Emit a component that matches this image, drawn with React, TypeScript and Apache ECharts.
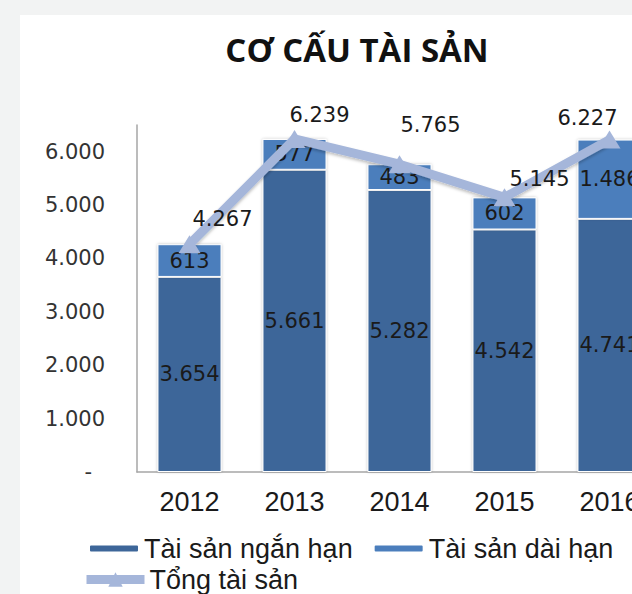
import React, { useEffect, useRef } from "react";
import * as echarts from "echarts";

const categories = ["2012", "2013", "2014", "2015", "2016"];
const shortTermAssets = [3654, 5661, 5282, 4542, 4741];
const longTermAssets = [613, 577, 483, 602, 1486];
const totalAssets = [4267, 6239, 5765, 5145, 6227];
const yTicks = [0, 1000, 2000, 3000, 4000, 5000, 6000];

const seriesNames = ["Tài sản ngắn hạn", "Tài sản dài hạn", "Tổng tài sản"];
const titleText = "CƠ CẤU TÀI SẢN";

// label offsets for the total line (layout only)
const totalLabelOffsets = [
  [33, -25],
  [25, -24],
  [31, -39],
  [35, -18],
  [-22, -22],
];

const fmt = (v: number) => String(v).replace(/\B(?=(\d{3})+(?!\d))/g, ".");

const DARK = "#3d6699";
const LIGHT = "#4b7ebc";
const LINE = "#a5b6da";
const NUM_FONT = "DejaVu Sans";
const TXT_FONT = "Liberation Sans";

export default function App() {
  const ref = useRef<HTMLDivElement>(null);
  useEffect(() => {
    if (!ref.current) return;
    const chart = echarts.init(ref.current, null, { renderer: "svg" });
    const barLabel = {
      show: true,
      position: "inside",
      color: "#1a1a1a",
      fontFamily: NUM_FONT,
      fontSize: 21,
      formatter: (p: any) => fmt(p.value),
    };
    chart.setOption({
      animation: false,
      backgroundColor: "#f2f3f3",
      graphic: [
        {
          type: "rect",
          z: -10,
          silent: true,
          shape: { x: 20, y: 15, width: 700, height: 700 },
          style: { fill: "#ffffff" },
        },
      ],
      title: {
        text: titleText,
        left: 352,
        textAlign: "center",
        top: 28,
        textStyle: {
          fontFamily: "Open Sans",
          fontWeight: "bold",
          fontSize: 33,
          color: "#111111",
        },
      },
      legend: [
        {
          data: [seriesNames[0], seriesNames[1]],
          left: 88,
          top: 535,
          padding: 0,
          itemWidth: 50,
          itemHeight: 8,
          itemGap: 20,
          textStyle: { fontFamily: TXT_FONT, fontSize: 27, color: "#1a1a1a" },
        },
        {
          data: [seriesNames[2]],
          left: 82,
          top: 566,
          padding: 0,
          itemWidth: 58,
          itemHeight: 18,
          lineStyle: { width: 9, color: LINE },
          textStyle: { fontFamily: TXT_FONT, fontSize: 27, color: "#1a1a1a" },
        },
      ],
      grid: { left: 137, right: 0, top: 125, bottom: 122, containLabel: false },
      xAxis: {
        type: "category",
        data: categories,
        axisLine: { show: true, lineStyle: { color: "#a6a6a6", width: 1.5 } },
        axisTick: { show: false },
        axisLabel: {
          fontFamily: TXT_FONT,
          fontSize: 27,
          color: "#1a1a1a",
          margin: 16,
        },
      },
      yAxis: {
        type: "value",
        min: 0,
        max: 6500,
        interval: 1000,
        splitLine: { show: false },
        axisTick: { show: false },
        axisLine: { show: true, lineStyle: { color: "#a6a6a6", width: 1.5 } },
        axisLabel: {
          margin: 32,
          fontFamily: NUM_FONT,
          fontSize: 21,
          color: "#333333",
          formatter: (v: number) =>
            v === 0 ? "{d|-}" : yTicks.includes(v) ? fmt(v) : "",
          rich: { d: { fontFamily: NUM_FONT, fontSize: 21, color: "#333333", padding: [0, 13, 0, 0] } },
        },
      },
      series: [
        {
          name: seriesNames[0],
          type: "bar",
          stack: "a",
          barWidth: "61%",
          data: shortTermAssets,
          itemStyle: {
            color: DARK,
            borderColor: "#ffffff",
            borderWidth: 1,
            shadowColor: "rgba(0,0,0,0.25)",
            shadowBlur: 3,
          },
          label: barLabel,
        },
        {
          name: seriesNames[1],
          type: "bar",
          stack: "a",
          barWidth: "61%",
          data: longTermAssets,
          itemStyle: {
            color: LIGHT,
            borderColor: "#ffffff",
            borderWidth: 1,
            shadowColor: "rgba(0,0,0,0.25)",
            shadowBlur: 3,
          },
          label: barLabel,
        },
        {
          name: seriesNames[2],
          type: "line",
          data: totalAssets.map((v, i) => ({
            value: v,
            label: { offset: totalLabelOffsets[i] },
          })),
          z: 5,
          symbol: "triangle",
          symbolSize: [22, 18],
          lineStyle: {
            color: LINE,
            width: 9,
            shadowColor: "rgba(0,0,0,0.25)",
            shadowBlur: 3,
            shadowOffsetY: 2,
          },
          itemStyle: { color: LINE },
          label: {
            show: true,
            position: "inside",
            color: "#1a1a1a",
            fontFamily: NUM_FONT,
            fontSize: 21,
            formatter: (p: any) => fmt(p.value),
          },
        },
      ],
    });
    return () => chart.dispose();
  }, []);
  return (
    <div style={{ position: "fixed", left: 0, top: 0, width: 632, height: 594, overflow: "hidden" }}>
      <div ref={ref} style={{ width: 662, height: 594 }} />
    </div>
  );
}
